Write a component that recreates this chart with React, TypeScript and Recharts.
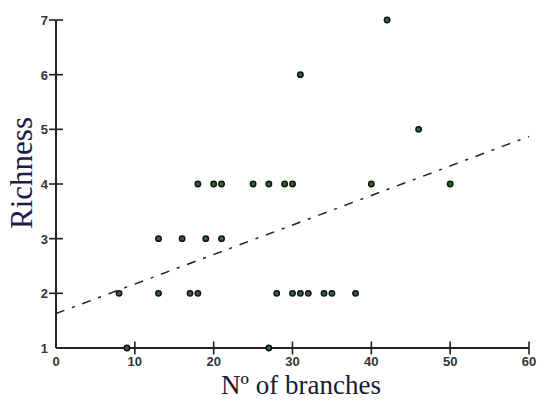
import React from 'react';
import { ScatterChart, Scatter, XAxis, YAxis, ReferenceLine } from 'recharts';

const branches = [8, 9, 13, 13, 16, 17, 18, 18, 19, 20, 21, 21, 25, 27, 27, 28, 29, 30, 30, 31, 31, 32, 34, 35, 38, 40, 42, 46, 50];
const richness = [2, 1, 2, 3, 3, 2, 2, 4, 3, 4, 4, 3, 4, 4, 1, 2, 4, 4, 2, 2, 6, 2, 2, 2, 2, 4, 7, 5, 4];
const xTicks = [0, 10, 20, 30, 40, 50, 60];
const yTicks = [1, 2, 3, 4, 5, 6, 7];
const trendX = [0, 60];
const trendY = [1.63, 4.87];

const data = branches.map((b, i) => ({ x: b, y: richness[i] }));

const AXIS = '#222';
const tickFont = { fontFamily: 'Liberation Sans, Arial, sans-serif', fontSize: 13, fontWeight: 'bold' as const, fill: '#333' };

const XTick = (props: any) => {
  const { x, y, payload } = props;
  return (
    <g>
      {payload.value !== 0 && (
        <line x1={x} x2={x} y1={y - 6.5} y2={y + 6.5} stroke={AXIS} strokeWidth={1.6} />
      )}
      <text x={x} y={y + 18} textAnchor="middle" {...tickFont}>{payload.value}</text>
    </g>
  );
};

const YTick = (props: any) => {
  const { x, y, payload } = props;
  return (
    <g>
      {payload.value !== 1 && (
        <line x1={x - 7} x2={x + 7} y1={y} y2={y} stroke={AXIS} strokeWidth={1.6} />
      )}
      <text x={x - 8} y={y + 5} textAnchor="end" {...tickFont}>{payload.value}</text>
    </g>
  );
};

const XTitle = () => (
  <text x={301} y={394} textAnchor="middle" fontFamily="Liberation Serif, Times New Roman, serif" fontSize={27} fill="#1a1a2e">
    Nº of branches
  </text>
);

const YTitle = () => (
  <text x={32} y={173} textAnchor="middle" transform="rotate(-90 32 173)" fontFamily="Liberation Serif, Times New Roman, serif" fontSize={31} fill="#1c1c4a">
    Richness
  </text>
);

const Marker = (p: any) => (
  <circle cx={p.cx} cy={p.cy} r={2.7} fill="#2e6b2e" stroke="#111" strokeWidth={1.5} />
);

export default function App() {
  return (
    <div style={{ position: 'absolute', left: 0, top: 0, width: 537, height: 400, background: '#fff' }}>
      <ScatterChart width={537} height={400} margin={{ top: 20, right: 8, bottom: 0, left: 0 }}>
        <XAxis
          type="number"
          dataKey="x"
          domain={[0, 60]}
          ticks={xTicks}
          height={52}
          tickSize={0}
          tickMargin={0}
          tickLine={false}
          axisLine={{ stroke: AXIS, strokeWidth: 2 }}
          tick={<XTick />}
          label={{ content: () => <XTitle /> }}
        />
        <YAxis
          type="number"
          dataKey="y"
          domain={[1, 7]}
          ticks={yTicks}
          width={56}
          tickSize={0}
          tickMargin={0}
          tickLine={false}
          axisLine={{ stroke: AXIS, strokeWidth: 2 }}
          tick={<YTick />}
          label={{ content: () => <YTitle /> }}
        />
        <ReferenceLine
          segment={[{ x: trendX[0], y: trendY[0] }, { x: trendX[1], y: trendY[1] }]}
          stroke="#222"
          strokeWidth={1.5}
          strokeDasharray="9 8 3 8"
          ifOverflow="visible"
        />
        <Scatter data={data} shape={<Marker />} isAnimationActive={false} />
      </ScatterChart>
    </div>
  );
}
